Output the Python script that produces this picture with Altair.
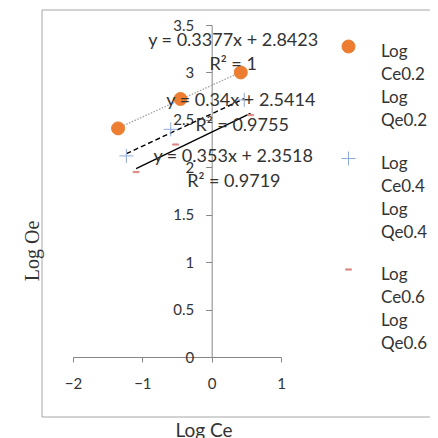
import altair as alt
import pandas as pd

# ---- data ----
series_names = ["Log Ce0.2 Log Qe0.2", "Log Ce0.4 Log Qe0.4", "Log Ce0.6 Log Qe0.6"]
log_ce_02 = [-1.35, -0.45, 0.42]
log_qe_02 = [2.41, 2.72, 3.00]
log_ce_04 = [-1.23, -0.59, 0.47]
log_qe_04 = [2.12, 2.40, 2.71]
log_ce_06 = [-1.09, -0.52, 0.56]
log_qe_06 = [1.95, 2.24, 2.55]

equation_labels = ["y = 0.3377x + 2.8423", "R² = 1",
                   "y = 0.34x + 2.5414", "R² = 0.9755",
                   "y = 0.353x + 2.3518", "R² = 0.9719"]
label_x = [0.31, 0.31, 0.42, 0.44, 0.31, 0.32]
label_y = [3.33, 3.08, 2.70, 2.44, 2.11, 1.85]

x_ticks = [-2, -1, 0, 1]
y_ticks = [0, 0.5, 1, 1.5, 2, 2.5, 3, 3.5]

x_title = "Log Ce"
y_title = "Log Oe"

# ---- tables ----
rows = []
for name, xs, ys in zip(series_names, [log_ce_02, log_ce_04, log_ce_06],
                        [log_qe_02, log_qe_04, log_qe_06]):
    for xv, yv in zip(xs, ys):
        rows.append({"series": name, "x": xv, "y": yv})
df = pd.DataFrame(rows)
ann = pd.DataFrame({"label": equation_labels, "lx": label_x, "ly": label_y})
one = pd.DataFrame({"k": [0]})

W, H = 208, 332
ORANGE = "#ED7D31"
BLUE = "#8FAADC"
SALMON = "#DB8C84"
TXT = "#333333"
AX = "#868686"
LABEL_DY = 10

plus_path = "M-1.08,0H1.08M0,-1.08V1.08"
dash_path = "M-0.46,-0.09H0.46V0.09H-0.46Z"

x_scale = alt.Scale(domain=[-2, 1], nice=False, zero=False)
y_scale = alt.Scale(domain=[0, 3.5], nice=False, zero=False)

legend = alt.Legend(
    title=None, orient="none", legendX=267, legendY=13, padding=0,
    rowPadding=20, labelOffset=24, symbolSize=169, symbolStrokeWidth=1,
    labelFont="Lato", labelFontSize=17, labelColor=TXT,
    labelBaseline="alphabetic", labelLimit=200,
    labelExpr="split(datum.label, ' ')",
)

points = alt.Chart(df).mark_point(size=169, strokeWidth=1, opacity=1).encode(
    x=alt.X("x:Q", scale=x_scale,
            axis=alt.Axis(values=x_ticks, title=None, grid=False, labelFlush=False,
                          format="~g", tickSize=5, labelPadding=14 - LABEL_DY)),
    y=alt.Y("y:Q", scale=y_scale,
            axis=alt.Axis(values=y_ticks, title=None, grid=False, labelFlush=False,
                          offset=-W * 2 / 3, format="~g", tickSize=6, labelPadding=12,
                          labelOffset=-LABEL_DY)),
    color=alt.Color("series:N", scale=alt.Scale(domain=series_names,
                                                range=[ORANGE, BLUE, SALMON]), legend=legend),
    fill=alt.Fill("series:N", scale=alt.Scale(domain=series_names,
                                              range=[ORANGE, "transparent", SALMON]), legend=legend),
    shape=alt.Shape("series:N", scale=alt.Scale(domain=series_names,
                                                range=["circle", plus_path, dash_path]), legend=legend),
)


def trend(name, color, dash):
    kw = dict(color=color, strokeWidth=1.4)
    if dash:
        kw["strokeDash"] = dash
    return (alt.Chart(df)
            .transform_filter(alt.datum.series == name)
            .transform_regression("x", "y")
            .mark_line(**kw)
            .encode(x="x:Q", y="y:Q"))


lines = [
    trend(series_names[0], "#A6A6A6", [1.5, 1.5]),
    trend(series_names[1], "#000000", [5, 3]),
    trend(series_names[2], "#000000", None),
]

labels = alt.Chart(ann).mark_text(font="Lato", fontSize=18, color=TXT).encode(
    x="lx:Q", y="ly:Q", text="label:N")

border = alt.Chart(one).mark_rect(fillOpacity=0, stroke="#A6A6A6", strokeWidth=1).encode(
    x=alt.value(-31), x2=alt.value(400), y=alt.value(-15), y2=alt.value(392))

ytitle = alt.Chart(one).mark_text(text=y_title, angle=270, font="Liberation Serif",
                                  fontSize=20, color=TXT).encode(
    x=alt.value(-40), y=alt.value(226))
xtitle = alt.Chart(one).mark_text(text=x_title, font="Lato", fontSize=19, color=TXT).encode(
    x=alt.value(131), y=alt.value(406))

chart = alt.layer(border, *lines, points, labels, ytitle, xtitle).properties(
    width=W, height=H,
    padding={"left": 65, "top": 17, "right": 149, "bottom": 81},
    autosize=alt.AutoSizeParams(type="none"),
).configure(
    style={"guide-label": {"lineHeight": 23, "dy": LABEL_DY}},
).configure_view(strokeWidth=0).configure_axis(
    domainColor=AX, tickColor=AX, labelFont="Lato", labelFontSize=15, labelColor=TXT,
)

chart.save("out.html", embed_options={"renderer": "svg", "actions": False})
